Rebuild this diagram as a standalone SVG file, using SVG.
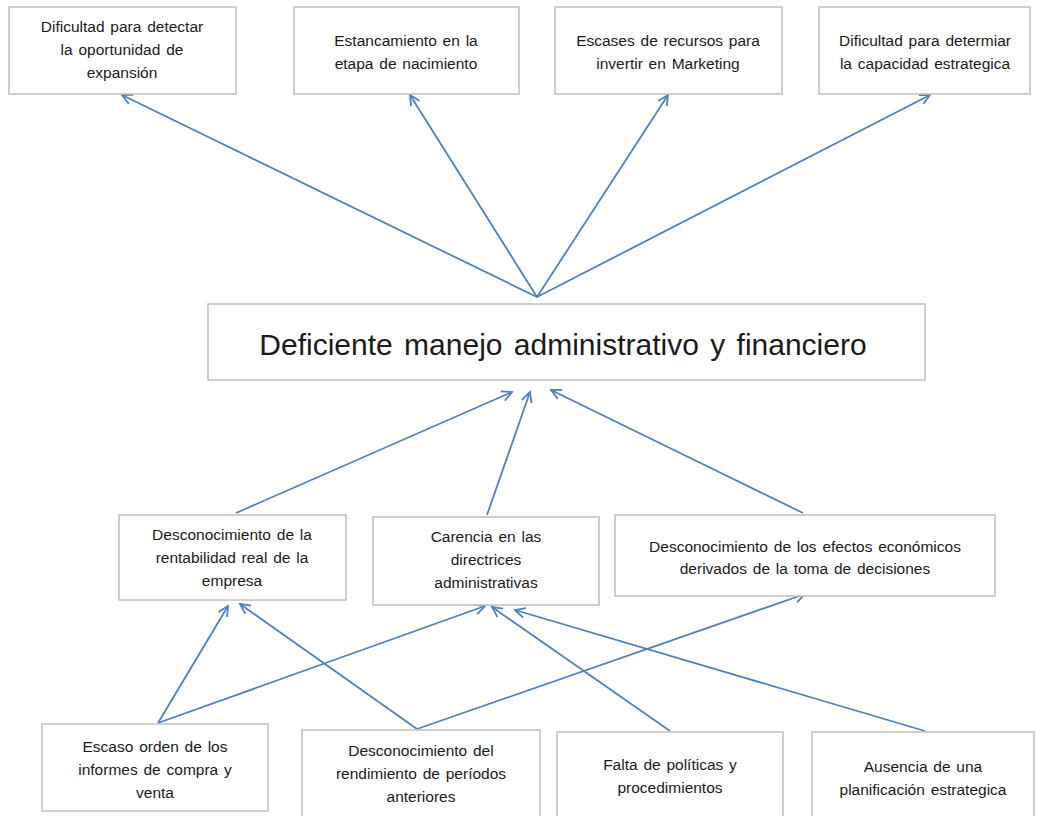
<svg xmlns="http://www.w3.org/2000/svg" width="1037" height="816" viewBox="0 0 1037 816">
<style>
.box{fill:#fff;stroke:#bfbfbf;stroke-width:1.5}
.t{font-family:"Liberation Sans",Arial,sans-serif;font-size:15.5px;word-spacing:1.5px;fill:#1a1a1a;text-anchor:middle}
.big{font-family:"Liberation Sans",Arial,sans-serif;font-size:30px;word-spacing:3px;fill:#1a1a1a;text-anchor:middle}
.c{stroke:#4f81bd;stroke-width:1.8;fill:none;marker-end:url(#arr)}
</style>
<defs>
<marker id="arr" markerUnits="userSpaceOnUse" markerWidth="14" markerHeight="14" refX="11" refY="6" orient="auto" viewBox="0 0 14 12">
<path d="M1,1 L11,6 L1,11" fill="none" stroke="#4f81bd" stroke-width="1.8"/>
</marker>
</defs>
<rect width="1037" height="816" fill="#fff"/>
<g id="connectors">
<line class="c" x1="537" y1="297" x2="122" y2="95"/>
<line class="c" x1="537" y1="297" x2="410" y2="95"/>
<line class="c" x1="537" y1="297" x2="668" y2="95"/>
<line class="c" x1="537" y1="297" x2="930" y2="95"/>
<line class="c" x1="236" y1="513" x2="512" y2="392"/>
<line class="c" x1="487" y1="515" x2="530" y2="392"/>
<line class="c" x1="803" y1="513" x2="551" y2="390"/>
<line class="c" x1="158" y1="723" x2="228" y2="606"/>
<line class="c" x1="158" y1="723" x2="485" y2="606"/>
<line class="c" x1="417" y1="729" x2="240" y2="604"/>
<line class="c" x1="417" y1="729" x2="805" y2="594"/>
<line class="c" x1="670" y1="731" x2="492" y2="607"/>
<line class="c" x1="925" y1="731" x2="515" y2="610"/>
</g>
<g id="t1"><rect class="box" x="9" y="7" width="227" height="87"/>
<text class="t" x="122" y="32">Dificultad para detectar</text>
<text class="t" x="122" y="55">la oportunidad de</text>
<text class="t" x="122" y="78">expansión</text></g>
<g id="t2"><rect class="box" x="294" y="7" width="225" height="87"/>
<text class="t" x="406" y="46">Estancamiento en la</text>
<text class="t" x="406" y="69">etapa de nacimiento</text></g>
<g id="t3"><rect class="box" x="555" y="7" width="227" height="87"/>
<text class="t" x="668" y="46">Escases de recursos para</text>
<text class="t" x="668" y="69">invertir en Marketing</text></g>
<g id="t4"><rect class="box" x="819" y="7" width="211" height="87"/>
<text class="t" x="925" y="46">Dificultad para determiar</text>
<text class="t" x="925" y="69">la capacidad estrategica</text></g>
<g id="main"><rect class="box" x="208" y="304" width="717" height="76"/>
<text class="big" x="563" y="355">Deficiente manejo administrativo y financiero</text></g>
<g id="m1"><rect class="box" x="119" y="515" width="227" height="85"/>
<text class="t" x="232" y="540">Desconocimiento de la</text>
<text class="t" x="232" y="563">rentabilidad real de la</text>
<text class="t" x="232" y="586">empresa</text></g>
<g id="m2"><rect class="box" x="373" y="517" width="226" height="88"/>
<text class="t" x="486" y="542">Carencia en las</text>
<text class="t" x="486" y="565">directrices</text>
<text class="t" x="486" y="588">administrativas</text></g>
<g id="m3"><rect class="box" x="615" y="515" width="380" height="81"/>
<text class="t" x="805" y="552">Desconocimiento de los efectos económicos</text>
<text class="t" x="805" y="574">derivados de la toma de decisiones</text></g>
<g id="b1"><rect class="box" x="42" y="724" width="226" height="87"/>
<text class="t" x="155" y="752">Escaso orden de los</text>
<text class="t" x="155" y="775">informes de compra y</text>
<text class="t" x="155" y="798">venta</text></g>
<g id="b2"><rect class="box" x="302" y="730" width="238" height="95"/>
<text class="t" x="421" y="756">Desconocimiento del</text>
<text class="t" x="421" y="779">rendimiento de períodos</text>
<text class="t" x="421" y="802">anteriores</text></g>
<g id="b3"><rect class="box" x="557" y="732" width="226" height="95"/>
<text class="t" x="670" y="770">Falta de políticas y</text>
<text class="t" x="670" y="793">procedimientos</text></g>
<g id="b4"><rect class="box" x="812" y="732" width="222" height="95"/>
<text class="t" x="923" y="772">Ausencia de una</text>
<text class="t" x="923" y="795">planificación estrategica</text></g>
</svg>
